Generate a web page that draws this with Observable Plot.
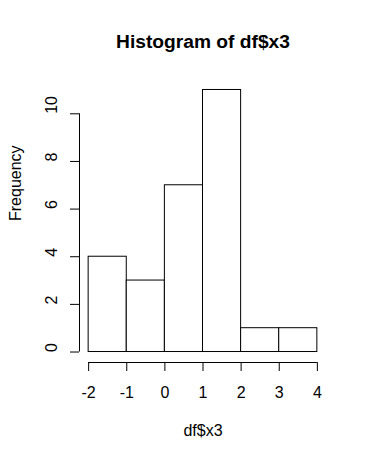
<!DOCTYPE html>
<html><head><meta charset="utf-8">
<script src="https://cdn.jsdelivr.net/npm/d3@7"></script>
<script src="https://cdn.jsdelivr.net/npm/@observablehq/plot@0.6"></script>
<style>body{margin:0;background:#fff}</style>
</head><body><div id="chart"></div>
<script>
const binStarts = [-2, -1, 0, 1, 2, 3];
const binEnds = [-1, 0, 1, 2, 3, 4];
const counts = [4, 3, 7, 11, 1, 1];
const xTicks = [-2, -1, 0, 1, 2, 3, 4];
const yTicks = [0, 2, 4, 6, 8, 10];
const title = "Histogram of df$x3";
const xLabel = "df$x3";
const yLabel = "Frequency";

const bins = binStarts.map((s, i) => ({x1: s, x2: binEnds[i], n: counts[i]}));
const xmin = d3.min(binStarts), xmax = d3.max(binEnds), ymax = d3.max(counts);
const xpad = (xmax - xmin) * 0.04, ypad = ymax * 0.04;
const xDom = [xmin - xpad, xmax + xpad], yDom = [-ypad, ymax + ypad];
const font = "Liberation Sans, Arial, sans-serif";

const chart = Plot.plot({
  width: 367, height: 460,
  marginLeft: 79, marginRight: 41, marginTop: 79, marginBottom: 98,
  style: {fontFamily: font, fontSize: "16px", color: "#000", background: "#fff"},
  x: {domain: xDom},
  y: {domain: yDom},
  marks: [
    Plot.rectY(bins, {x1: "x1", x2: "x2", y1: 0, y2: "n", fill: "white", stroke: "black", strokeWidth: 1}),
    Plot.ruleY([yDom[0]], {x1: xTicks[0], x2: xTicks[xTicks.length - 1], stroke: "black"}),
    Plot.ruleX([xDom[0]], {y1: yTicks[0], y2: yTicks[yTicks.length - 1], stroke: "black"}),
    Plot.axisX({ticks: xTicks, tickSize: 9, tickPadding: 15, fontSize: 16, label: null, tickFormat: d => String(d).replace("−", "-")}),
    Plot.axisY({ticks: yTicks, tickSize: 9, tickFormat: () => "", label: null}),
    Plot.text(yTicks, {y: d => d, text: d => String(d), frameAnchor: "left", rotate: -90, dx: -28, fontSize: 16}),
    Plot.text([title], {frameAnchor: "top", lineAnchor: "bottom", dy: -32, fontSize: 19.2, fontWeight: "bold"}),
    Plot.text([xLabel], {frameAnchor: "bottom", lineAnchor: "bottom", dy: 73, fontSize: 16}),
    Plot.text([yLabel], {frameAnchor: "left", rotate: -90, dx: -64, fontSize: 16})
  ]
});
document.getElementById("chart").appendChild(chart);
</script>
</body></html>
